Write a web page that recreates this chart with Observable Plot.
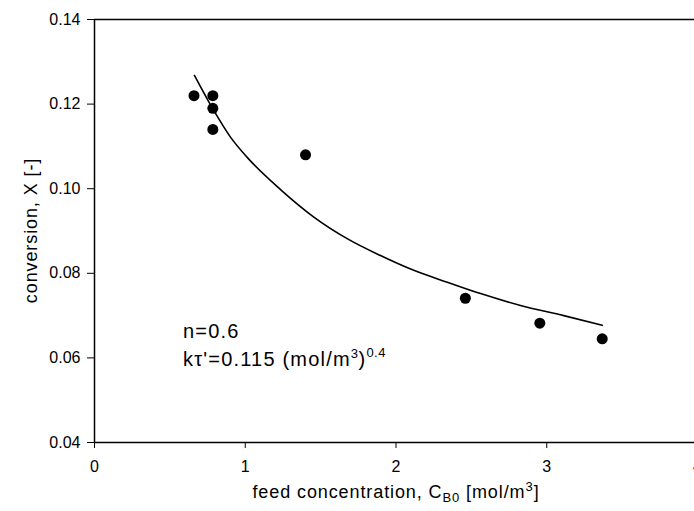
<!DOCTYPE html>
<html>
<head>
<meta charset="utf-8">
<script src="https://cdn.jsdelivr.net/npm/d3@7"></script>
<script src="https://cdn.jsdelivr.net/npm/@observablehq/plot@0.6"></script>
<style>
  html, body { margin: 0; padding: 0; background: #fff; overflow: hidden; }
  #chart svg { display: block; }
</style>
</head>
<body>
<div id="chart"></div>
<script>
// Measured data points (feed concentration C_B0, conversion X)
const feedConc   = [0.66, 0.785, 0.785, 0.785, 1.40, 2.46, 2.954, 3.368];
const conversion = [0.122, 0.122, 0.119, 0.114, 0.108, 0.0741, 0.0682, 0.0645];

// Fitted curve
const fitConc = [0.663, 0.791, 0.902, 1.013, 1.234, 1.455, 1.676, 1.897, 2.118, 2.340, 2.561, 2.826, 3.113, 3.368];
const fitConv = [0.1268, 0.1185, 0.1122, 0.1074, 0.0998, 0.0933, 0.0882, 0.0842, 0.0807, 0.0779, 0.0752, 0.0724, 0.0700, 0.0677];

// Tick labels
const xTicks = [0, 1, 2, 3, 4];
const yTicks = [0.04, 0.06, 0.08, 0.10, 0.12, 0.14];

const points = feedConc.map((c, i) => ({c, x: conversion[i]}));
const fit = fitConc.map((c, i) => ({c, x: fitConv[i]}));

const W = 694, H = 511;
const plot = Plot.plot({
  width: W,
  height: H,
  marginLeft: 94,
  marginRight: 0,
  marginTop: 19,
  marginBottom: 69,
  style: {fontFamily: "'Liberation Sans', Arial, sans-serif", fontSize: "16px", color: "#000", background: "#fff", overflow: "visible"},
  x: {domain: [0, 4], range: [94, 697], ticks: xTicks, tickFormat: d3.format("d"), tickSize: 6, tickPadding: 12, label: null},
  y: {domain: [0.04, 0.14], range: [442, 19], ticks: yTicks, tickFormat: d3.format(".2f"), tickSize: 7, tickPadding: 7, label: null},
  marks: [
    Plot.ruleY([0.04, 0.14], {stroke: "#000", strokeWidth: 1.5}),
    Plot.ruleX([0], {stroke: "#000", strokeWidth: 1.5}),
    Plot.line(fit, {x: "c", y: "x", curve: "monotone-x", stroke: "#000", strokeWidth: 1.6}),
    Plot.dot(points, {x: "c", y: "x", r: 5.5, fill: "#000", stroke: "none"})
  ]
});
document.getElementById("chart").appendChild(plot);

const svg = d3.select(plot);
const xs = plot.scale("x"), ys = plot.scale("y");
const font = "'Liberation Sans', Arial, sans-serif";

// Y axis title
svg.append("text")
  .attr("transform", "translate(37,230.5) rotate(-90)")
  .attr("text-anchor", "middle")
  .attr("font-family", font).attr("font-size", 18).attr("letter-spacing", 0.9).attr("fill", "#000")
  .text("conversion, X [-]");

// X axis title with sub/superscripts
const xt = svg.append("text")
  .attr("x", 396).attr("y", 498)
  .attr("text-anchor", "middle")
  .attr("font-family", font).attr("font-size", 18).attr("letter-spacing", 0.9).attr("fill", "#000");
xt.append("tspan").text("feed concentration, C");
xt.append("tspan").attr("font-size", 13).attr("dy", 4).text("B0");
xt.append("tspan").attr("dy", -4).text(" [mol/m");
xt.append("tspan").attr("font-size", 13).attr("dy", -7).text("3");
xt.append("tspan").attr("dy", 7).text("]");

// Annotation
const ax = xs.apply(0.59);
svg.append("text")
  .attr("x", ax).attr("y", ys.apply(0.06466))
  .attr("text-anchor", "start")
  .attr("font-family", font).attr("font-size", 20).attr("letter-spacing", 1.2).attr("fill", "#000")
  .text("n=0.6");
const a2 = svg.append("text")
  .attr("x", ax).attr("y", ys.apply(0.05805))
  .attr("text-anchor", "start")
  .attr("font-family", font).attr("font-size", 20).attr("letter-spacing", 1.2).attr("fill", "#000");
a2.append("tspan").text("k\u03C4'=0.115 (mol/m");
a2.append("tspan").attr("font-size", 13).attr("letter-spacing", 0.5).attr("dy", -8).text("3");
a2.append("tspan").attr("dy", 8).text(")");
a2.append("tspan").attr("font-size", 13).attr("letter-spacing", 0.5).attr("dy", -9).text("0.4");
</script>
</body>
</html>
